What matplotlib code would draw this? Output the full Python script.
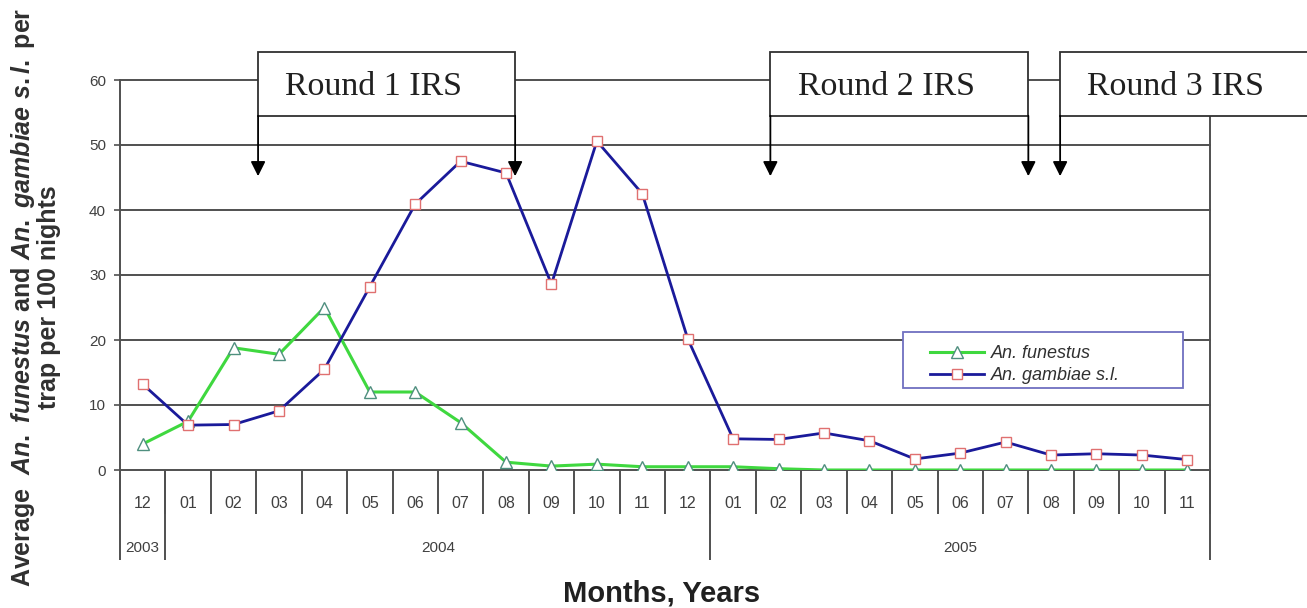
import numpy as np
import matplotlib
matplotlib.use('Agg')
from matplotlib import pyplot as plt
from matplotlib.patches import Rectangle
import matplotlib.transforms as mtransforms

plt.rcParams['font.family'] = ['Liberation Sans', 'DejaVu Sans']
plt.rcParams['mathtext.fontset'] = 'custom'
plt.rcParams['mathtext.it'] = 'Liberation Sans:italic:bold'
plt.rcParams['mathtext.rm'] = 'Liberation Sans:bold'

# data
months = ['12', '01', '02', '03', '04', '05', '06', '07', '08', '09', '10', '11',
          '12', '01', '02', '03', '04', '05', '06', '07', '08', '09', '10', '11']
years = ['2003', '2004', '2005']
year_pos = [0, 6.5, 18]
year_bounds = [-0.5, 0.5, 12.5, 23.5]
funestus = [4, 7.5, 18.8, 17.8, 25, 12, 12, 7.3, 1.2, 0.6, 0.9, 0.5,
            0.5, 0.5, 0.2, 0, 0, 0, 0, 0, 0, 0, 0, 0]
gambiae = [13.2, 6.9, 7, 9.1, 15.5, 28.2, 40.9, 47.5, 45.7, 28.6, 50.6, 42.5,
           20.2, 4.8, 4.7, 5.7, 4.5, 1.7, 2.6, 4.3, 2.3, 2.5, 2.3, 1.6]
rounds = ['Round 1 IRS', 'Round 2 IRS', 'Round 3 IRS']
round_start = [2.54, 13.82, 20.2]
round_end = [8.2, 19.5, 27.0]

x = np.arange(len(months))

fig = plt.figure(figsize=(13.07, 6.08), dpi=100)
ax = fig.add_axes([120/1307, 1-470/608, 1090/1307, 390/608])

ax.set_xlim(-0.5, 23.5)
ax.set_ylim(0, 60)

# gridlines
for gy in range(10, 61, 10):
    ax.axhline(gy, color='#505050', lw=1.4, zorder=1, clip_on=False)

ax.plot(x, funestus, color='#3fd83f', lw=2.2, marker='^', ms=8,
        mfc='white', mec='#4f8f7f', mew=1.0, zorder=3, label='An. funestus')
ax.plot(x, gambiae, color='#1a1a9a', lw=2.0, marker='s', ms=7,
        mfc='white', mec='#e07070', mew=1.0, zorder=4, label='An. gambiae s.l.')

ax.spines['top'].set_visible(False)
for s in ['left', 'right', 'bottom']:
    ax.spines[s].set_color('#505050')
    ax.spines[s].set_linewidth(1.4)

ax.set_yticks(range(0, 61, 10))
ax.tick_params(axis='y', length=4, width=1.2, color='#505050', labelsize=11,
               labelcolor='#404040', pad=6)
ax.set_xticks(x)
ax.set_xticklabels(months)
ax.tick_params(axis='x', which='major', length=0, labelsize=11.5,
               labelcolor='#404040', pad=19)
ax.set_xticks(np.arange(-0.5, 24, 1), minor=True)
ax.tick_params(axis='x', which='minor', length=32, width=1.4, color='#505050',
               direction='out')

# year separators and labels
trans = mtransforms.blended_transform_factory(ax.transData, ax.transAxes)
ax.vlines(year_bounds, -0.232, 0, color='#505050', lw=1.4, transform=trans,
          clip_on=False)
for yl, yp in zip(years, year_pos):
    ax.text(yp, -0.2, yl, transform=trans, ha='center', va='center',
            fontsize=11, color='#404040')

# IRS boxes
for name, a, b in zip(rounds, round_start, round_end):
    ax.add_patch(Rectangle((a, 54.5), b - a, 9.8, facecolor='white',
                           edgecolor='#303030', lw=1.3, zorder=5, clip_on=False))
    ax.text(a + 0.6, 58.9, name, family='Liberation Serif', fontsize=24.5,
            ha='left', va='center', color='#202020', zorder=6, clip_on=False)
    for xa in (a, b):
        if xa > 23.5:
            continue
        ax.annotate('', xy=(xa, 45.2), xytext=(xa, 54.5),
                    arrowprops=dict(arrowstyle='-|>', color='black', lw=1.3,
                                    mutation_scale=22, shrinkA=0, shrinkB=0),
                    annotation_clip=False, zorder=6)

# legend: frame drawn by hand so it can be as wide as in the original
ax.add_patch(Rectangle((0.718, 0.21), 0.257, 0.144, transform=ax.transAxes,
                       facecolor='white', edgecolor='#7070c0', lw=1.3,
                       zorder=4.5))
leg = ax.legend(loc='center left', bbox_to_anchor=(0.743, 0.27),
                borderaxespad=0, borderpad=0, frameon=False,
                prop={'style': 'italic', 'size': 13},
                handlelength=3.0, handletextpad=0.4, labelspacing=0.3)
for t in leg.get_texts():
    t.set_color('#303030')

fig.text(0.027, 0.511,
         r"Average  $\mathit{An.\ funestus}$ and $\mathit{An.\ gambiae\ s.l.}$ per" + "\ntrap per 100 nights",
         rotation=90, ha='center', va='center', fontsize=18, fontweight='bold',
         multialignment='center', color='#303030', linespacing=1.0)
fig.text(662/1307, 1-594/608, 'Months, Years', ha='center', va='center',
         fontsize=21, fontweight='bold', color='#202020')

fig.savefig('out.png', dpi=100)
